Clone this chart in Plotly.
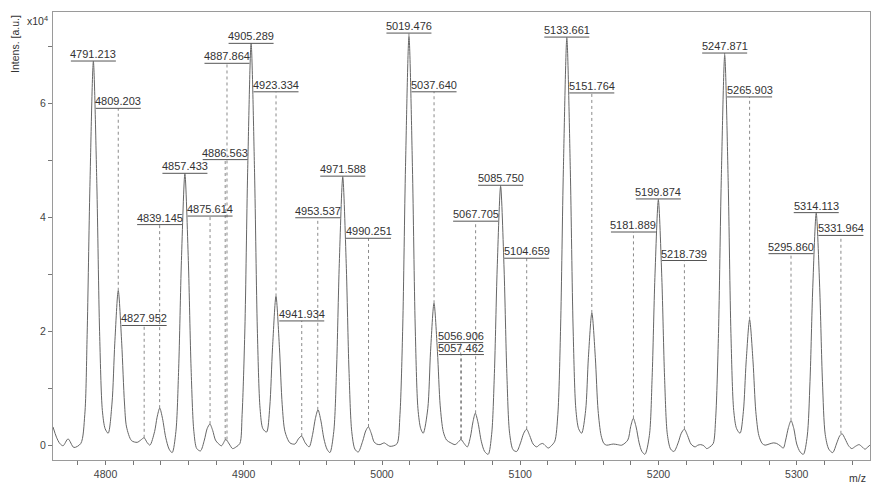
import plotly.graph_objects as go

# profile spectrum (m/z, intensity in units of 1e4)
mz = [
    4762.0, 4764.5, 4766.9, 4769.3, 4772.9, 4777.1, 4782.1,
    4785.0, 4786.7, 4788.7, 4791.2, 4793.7, 4795.7, 4797.7, 4799.7, 4801.9,
    4804.7, 4806.7, 4809.2, 4811.7, 4813.7, 4815.2, 4818.8, 4822.9, 4825.5,
    4827.9, 4830.0, 4832.1,
    4835.5, 4837.3, 4839.2, 4841.2, 4843.5, 4846.0, 4848.2,
    4850.9, 4852.9, 4854.9, 4857.4, 4859.9, 4861.9, 4863.9, 4866.0, 4868.7,
    4871.5, 4873.5, 4875.5, 4877.5, 4879.5, 4881.5, 4883.9, 4887.0, 4889.5,
    4891.9, 4894.5, 4897.2,
    4898.8, 4900.8, 4902.8, 4905.3, 4907.8, 4909.8, 4911.8, 4913.8, 4916.5,
    4918.8, 4920.8, 4923.3, 4925.8, 4927.8, 4929.8, 4933.4, 4937.0, 4939.5,
    4941.8, 4944.5, 4947.3,
    4949.8, 4951.8, 4953.7, 4955.7, 4958.0, 4960.2, 4962.3,
    4965.1, 4967.1, 4969.1, 4971.6, 4974.1, 4976.1, 4978.1, 4980.4, 4982.8,
    4986.0, 4988.2, 4990.1, 4992.2, 4994.2, 4996.1, 4998.5, 5001.6, 5003.6,
    5005.7, 5008.5, 5011.0,
    5013.0, 5015.0, 5017.0, 5019.5, 5022.0, 5024.0, 5026.0, 5028.0, 5029.8,
    5033.1, 5035.1, 5037.6, 5040.1, 5042.1, 5044.3, 5046.7, 5049.8, 5052.8,
    5055.0, 5057.1, 5059.4, 5061.7,
    5063.9, 5065.8, 5067.5, 5069.5, 5071.8, 5074.2, 5076.8,
    5079.3, 5081.3, 5083.3, 5085.8, 5088.3, 5090.3, 5092.3, 5094.8, 5097.4,
    5100.2, 5102.5, 5104.6, 5106.8, 5109.3, 5111.9, 5114.0, 5116.2, 5118.2,
    5120.3, 5122.5, 5125.0,
    5127.2, 5129.2, 5131.2, 5133.7, 5136.2, 5138.2, 5140.2, 5142.2, 5144.4,
    5147.3, 5149.3, 5151.8, 5154.3, 5156.3, 5158.5, 5160.5, 5162.5, 5165.0,
    5167.3, 5170.3, 5173.4,
    5177.8, 5179.9, 5181.8, 5183.8, 5186.0, 5188.0, 5190.2,
    5193.4, 5195.4, 5197.4, 5199.9, 5202.4, 5204.4, 5206.4, 5208.8, 5211.2,
    5214.2, 5216.5, 5218.7, 5221.0, 5223.5, 5226.4, 5228.5, 5230.5, 5232.8,
    5234.9, 5237.2, 5239.6,
    5241.4, 5243.4, 5245.4, 5247.9, 5250.4, 5252.4, 5254.4, 5256.5, 5259.0,
    5261.4, 5263.4, 5265.9, 5268.4, 5270.4, 5272.6, 5275.0, 5277.1, 5280.0,
    5283.0, 5285.5, 5288.0, 5290.3,
    5292.0, 5294.0, 5295.9, 5297.9, 5300.0, 5302.5, 5304.8,
    5307.6, 5309.6, 5311.6, 5314.1, 5316.6, 5318.6, 5320.6, 5323.2, 5326.0,
    5329.0, 5331.0, 5332.8, 5335.0, 5337.5, 5339.8, 5342.5, 5345.1, 5347.3,
    5349.4, 5351.5, 5353.8,
]
intens = [
    0.33, 0.15, 0.04, 0.00, 0.12, -0.03, 0.04,
    0.55, 1.95, 4.55, 6.74, 4.60, 2.00, 0.62, 0.30, 0.22,
    0.75, 1.80, 2.72, 1.80, 0.75, 0.33, 0.09, 0.06, 0.10,
    0.14, 0.06, 0.01,
    0.25, 0.50, 0.66, 0.48, 0.15, -0.06, -0.12,
    0.25, 1.35, 3.25, 4.77, 3.25, 1.35, 0.25, -0.05, -0.09,
    0.10, 0.30, 0.38, 0.27, 0.10, 0.04, 0.00, 0.11, 0.03,
    -0.05, -0.02, 0.04,
    0.55, 2.05, 4.80, 7.06, 4.80, 2.05, 0.65, 0.30, 0.24,
    0.68, 1.72, 2.62, 1.72, 0.72, 0.25, 0.05, 0.03, 0.12,
    0.17, 0.05, -0.02,
    0.20, 0.48, 0.63, 0.45, 0.12, -0.06, -0.12,
    0.25, 1.33, 3.20, 4.71, 3.20, 1.33, 0.25, -0.06, -0.11,
    0.08, 0.26, 0.33, 0.22, 0.07, 0.03, 0.02, 0.05, 0.02,
    -0.01, 0.00, 0.04,
    0.55, 2.10, 4.90, 7.18, 4.90, 2.10, 0.65, 0.30, 0.22,
    0.65, 1.65, 2.50, 1.65, 0.70, 0.25, 0.10, 0.05, 0.02,
    0.06, 0.11, 0.04, -0.02,
    0.15, 0.42, 0.57, 0.40, 0.08, -0.10, -0.15,
    0.20, 1.27, 3.10, 4.55, 3.10, 1.27, 0.22, -0.07, -0.10,
    0.05, 0.22, 0.29, 0.18, 0.03, -0.02, 0.02, 0.04, 0.00,
    -0.04, 0.00, 0.08,
    0.55, 2.10, 4.85, 7.15, 4.85, 2.10, 0.65, 0.30, 0.22,
    0.62, 1.55, 2.33, 1.55, 0.62, 0.18, 0.04, 0.01, 0.02,
    0.03, 0.02, 0.01,
    0.10, 0.34, 0.48, 0.33, 0.05, -0.10, -0.15,
    0.18, 1.20, 2.95, 4.31, 2.95, 1.20, 0.20, -0.06, -0.10,
    0.05, 0.22, 0.29, 0.18, 0.03, -0.02, 0.01, 0.02, 0.00,
    -0.05, -0.02, 0.04,
    0.50, 1.97, 4.65, 6.85, 4.65, 1.97, 0.62, 0.30, 0.22,
    0.60, 1.47, 2.21, 1.47, 0.60, 0.18, 0.04, 0.01, 0.03,
    0.05, 0.04, 0.00, -0.04,
    0.10, 0.32, 0.44, 0.30, 0.03, -0.11, -0.15,
    0.17, 1.13, 2.78, 4.08, 2.78, 1.13, 0.20, -0.06, -0.12,
    0.05, 0.17, 0.21, 0.12, 0.00, -0.05, -0.01, 0.02, -0.02,
    -0.06, -0.02, 0.03,
]

# peak labels: m/z, apex intensity, height of the label underline
peak_mz = [
    4791.213, 4809.203, 4827.952, 4839.145, 4857.433, 4875.614, 4886.563,
    4887.864, 4905.289, 4923.334, 4941.934, 4953.537, 4971.588, 4990.251,
    5019.476, 5037.640, 5056.906, 5057.462, 5067.705, 5085.750, 5104.659,
    5133.661, 5151.764, 5181.889, 5199.874, 5218.739, 5247.871, 5265.903,
    5295.860, 5314.113, 5331.964,
]
peak_int = [
    6.74, 2.72, 0.14, 0.66, 4.77, 0.38, 0.10,
    0.11, 7.06, 2.62, 0.17, 0.63, 4.71, 0.33,
    7.18, 2.50, 0.11, 0.11, 0.57, 4.55, 0.29,
    7.15, 2.33, 0.48, 4.31, 0.29, 6.85, 2.21,
    0.44, 4.08, 0.21,
]
label_y = [
    6.75, 5.92, 2.11, 3.88, 4.78, 4.03, 5.02,
    6.71, 7.06, 6.21, 2.19, 4.00, 4.73, 3.64,
    7.24, 6.21, 1.81, 1.60, 3.94, 4.57, 3.29,
    7.17, 6.19, 3.75, 4.33, 3.25, 6.89, 6.12,
    3.37, 4.09, 3.69,
]

FONT = "Liberation Sans, Arial, sans-serif"
GREY = "#666666"

fig = go.Figure()

# dotted drop lines from label down to peak apex
dx, dy = [], []
for m, a, ly in zip(peak_mz, peak_int, label_y):
    dx += [m, m, None]
    dy += [a, ly, None]
fig.add_trace(go.Scatter(x=dx, y=dy, mode="lines",
                         line=dict(color="#8a8a8a", width=1, dash="dot"),
                         hoverinfo="skip"))

fig.add_trace(go.Scatter(x=mz, y=intens, mode="lines",
                         line=dict(color=GREY, width=1, shape="spline", smoothing=0.8)))

for m, ly in zip(peak_mz, label_y):
    fig.add_annotation(x=m, y=ly, text=f"{m:.3f}", showarrow=False,
                       xanchor="center", yanchor="bottom", yshift=-1,
                       font=dict(family=FONT, size=11, color="#333333"))
    fig.add_shape(type="line", xref="x", yref="y", xsizemode="pixel",
                  xanchor=m, x0=-22.5, x1=22.5, y0=ly, y1=ly,
                  line=dict(color="#555555", width=1))

fig.add_annotation(xref="paper", yref="paper", x=-0.004, y=0.982, text="x10<sup>4</sup>",
                   showarrow=False, xanchor="right", yanchor="middle",
                   font=dict(family=FONT, size=10.5, color="#333333"))
fig.add_annotation(xref="paper", yref="paper", x=0.9976, y=-0.040, text="m/z",
                   showarrow=False, xanchor="right", yanchor="middle",
                   font=dict(family=FONT, size=10.5, color="#333333"))
fig.add_annotation(xref="paper", yref="paper", x=-0.0465, y=0.998, text="Intens. [a.u.]",
                   showarrow=False, textangle=-90, xanchor="center", yanchor="top",
                   font=dict(family=FONT, size=10.5, color="#333333"))

fig.update_layout(
    width=871, height=483,
    margin=dict(l=53, r=1, t=12, b=23),
    paper_bgcolor="white", plot_bgcolor="white",
    showlegend=False,
    font=dict(family=FONT, size=10.5, color="#444444"),
)
fig.update_xaxes(range=[4762, 5353], showgrid=False, zeroline=False,
                 showline=True, linecolor="#9a9a9a", linewidth=1, mirror=True,
                 tickmode="array", tickvals=[4800, 4900, 5000, 5100, 5200, 5300],
                 ticks="outside", ticklen=4, tickcolor="#777777",
                 minor=dict(dtick=20, tick0=4800, ticks="outside", ticklen=4,
                            tickcolor="#777777", showgrid=False))
fig.update_yaxes(range=[-0.25, 7.61], showgrid=False, zeroline=False,
                 showline=True, linecolor="#9a9a9a", linewidth=1, mirror=True,
                 tickvals=[0, 2, 4, 6], ticks="outside", ticklen=4,
                 tickcolor="#777777",
                 minor=dict(dtick=1, tick0=0, ticks="outside", ticklen=4,
                            tickcolor="#777777", showgrid=False))

# the page body has a default 8px margin; drop it so the figure fills the window
fig.write_html("out.html", config={"displayModeBar": False},
               post_script="document.body.style.margin='0';document.body.style.overflow='hidden';")
